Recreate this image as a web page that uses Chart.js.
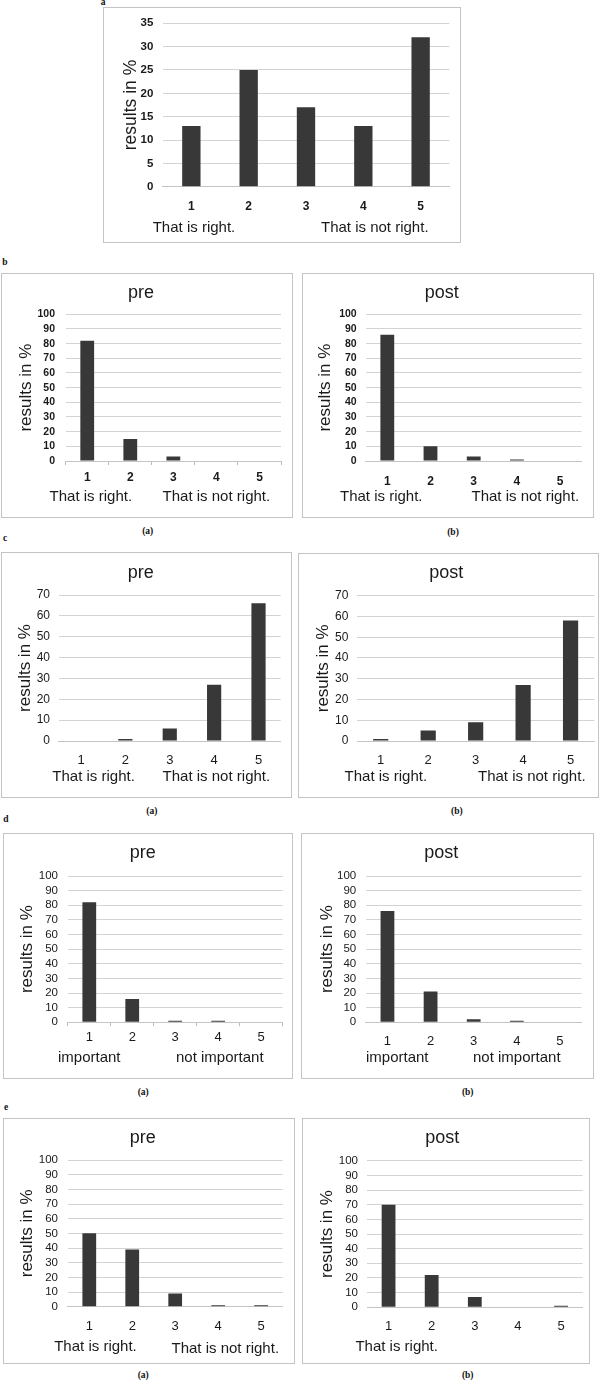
<!DOCTYPE html>
<html>
<head>
<meta charset="utf-8">
<script src="https://cdn.jsdelivr.net/npm/chart.js@4.4.1/dist/chart.umd.min.js"></script>
<style>
html, body { margin: 0; padding: 0; background: #fff; }
#page { position: relative; width: 607px; height: 1382px; overflow: hidden; font-family: "Liberation Serif", "Times New Roman", serif; }
#page canvas { position: absolute; }
.lbl { position: absolute; font-weight: bold; font-size: 9.5px; line-height: 1; color: #111; transform: translate(-50%, -50%); white-space: nowrap; }
</style>
</head>
<body>
<div id="page"></div>
<script>
// categories on the x axis (answer scale 1..5)
var categories = ['1', '2', '3', '4', '5'];
var rightWrong = ['That is right.', 'That is not right.'];
var importance = ['important', 'not important'];

// results in %
var valuesA     = [13, 25, 17, 13, 32];
var valuesBPre  = [82, 15, 3, 0, 0];
var valuesBPost = [86, 10, 3, 1, 0];
var valuesCPre  = [0, 1, 6, 27, 66];
var valuesCPost = [1, 5, 9, 27, 58];
var valuesDPre  = [82, 16, 1, 1, 0];
var valuesDPost = [76, 21, 2, 1, 0];
var valuesEPre  = [50, 39, 9, 1, 1];
var valuesEPost = [70, 22, 7, 0, 1];

var SANS = '"Liberation Sans", Arial, sans-serif';

// layout of every panel, in page pixels
var panels = [
  { values: valuesA, box: [103, 7, 358, 236], area: [162.7, 449.3, 20, 186.7], max: 35, step: 5,
    tickRight: 153.3, tickFont: { size: 11.5, weight: 'bold' }, xFont: { size: 12, weight: 'bold' }, xLabelY: 202.3,
    yTitleX: 130.7, yTitleSize: 17.5, title: null, marks: false,
    captions: [[rightWrong[0], 152.7, 227.7], [rightWrong[1], 321, 227.7]] },
  { values: valuesBPre, box: [1, 273, 292, 245], area: [65.7, 281, 314.3, 461], max: 100, step: 10,
    tickRight: 55, tickFont: { size: 10.5, weight: 'bold' }, xFont: { size: 12, weight: 'bold' }, xLabelY: 477.7,
    yTitleX: 26, yTitleSize: 17, title: 'pre', titleY: 293, marks: true,
    captions: [[rightWrong[0], 49.6, 497.3], [rightWrong[1], 162.6, 497.3]] },
  { values: valuesBPost, box: [302, 273, 292, 245], area: [365.7, 581.7, 314.3, 461], max: 100, step: 10,
    tickRight: 356.7, tickFont: { size: 10.5, weight: 'bold' }, xFont: { size: 12, weight: 'bold' }, xLabelY: 477.7,
    yTitleX: 325, yTitleSize: 17, title: 'post', titleY: 293, marks: false,
    captions: [[rightWrong[0], 340, 497.3], [rightWrong[1], 471.5, 497.3]] },
  { values: valuesCPre, box: [1, 552, 291, 246], area: [58.8, 280.7, 595, 741], max: 70, step: 10,
    tickRight: 50, tickFont: { size: 12, weight: 'normal' }, xFont: { size: 13, weight: 'normal' }, xLabelY: 756.7,
    yTitleX: 25.5, yTitleSize: 17, title: 'pre', titleY: 572.7, marks: false,
    captions: [[rightWrong[0], 52.3, 777], [rightWrong[1], 162.6, 777]] },
  { values: valuesCPost, box: [298, 553, 301, 245], area: [357, 594.3, 595.7, 741], max: 70, step: 10,
    tickRight: 348.4, tickFont: { size: 12, weight: 'normal' }, xFont: { size: 13, weight: 'normal' }, xLabelY: 756.7,
    yTitleX: 323.3, yTitleSize: 17, title: 'post', titleY: 573.3, marks: false,
    captions: [[rightWrong[0], 344.6, 777], [rightWrong[1], 478, 777]] },
  { values: valuesDPre, box: [3, 833, 290, 246], area: [67.8, 282.6, 876, 1022.3], max: 100, step: 10,
    tickRight: 58, tickFont: { size: 11.5, weight: 'normal' }, xFont: { size: 13, weight: 'normal' }, xLabelY: 1037.7,
    yTitleX: 27, yTitleSize: 17, title: 'pre', titleY: 853.3, marks: true,
    captions: [[importance[0], 58, 1058], [importance[1], 176, 1058]] },
  { values: valuesDPost, box: [301, 833, 293, 246], area: [365.9, 581.5, 876, 1022.3], max: 100, step: 10,
    tickRight: 356.2, tickFont: { size: 11.5, weight: 'normal' }, xFont: { size: 13, weight: 'normal' }, xLabelY: 1037.7,
    yTitleX: 327, yTitleSize: 17, title: 'post', titleY: 853.3, marks: false,
    captions: [[importance[0], 366, 1058], [importance[1], 473, 1058]] },
  { values: valuesEPre, box: [3, 1118, 292, 246], area: [67.8, 282.6, 1160, 1306.7], max: 100, step: 10,
    tickRight: 58, tickFont: { size: 11.5, weight: 'normal' }, xFont: { size: 13, weight: 'normal' }, xLabelY: 1322.7,
    yTitleX: 27, yTitleSize: 17, title: 'pre', titleY: 1138.3, marks: false,
    captions: [[rightWrong[0], 54.2, 1347.3], [rightWrong[1], 171.5, 1349.3]] },
  { values: valuesEPost, box: [302, 1118, 288, 246], area: [367, 582.6, 1160.7, 1307.3], max: 100, step: 10,
    tickRight: 358, tickFont: { size: 11.5, weight: 'normal' }, xFont: { size: 13, weight: 'normal' }, xLabelY: 1322.7,
    yTitleX: 327, yTitleSize: 17, title: 'post', titleY: 1138.3, marks: false,
    captions: [[rightWrong[0], 355.4, 1346.7]] }
];

// panel letters and sub captions
var letters = [
  ['a', 103, 3], ['b', 5, 263], ['c', 5, 538.5], ['d', 6, 820], ['e', 6, 1108],
  ['(a)', 147.7, 532.3], ['(b)', 453, 533],
  ['(a)', 151.8, 811.7], ['(b)', 456.8, 811.7],
  ['(a)', 143.2, 1093.3], ['(b)', 467.7, 1093.3],
  ['(a)', 143.2, 1376], ['(b)', 467.7, 1376]
];

// border of each panel and the text under the x axis
var decorPlugin = {
  id: 'decor',
  afterDraw: function(chart, args, opts) {
    var ctx = chart.ctx;
    ctx.save();
    ctx.strokeStyle = '#c4c4c4';
    ctx.lineWidth = 1;
    ctx.strokeRect(0.5, 0.5, chart.width - 1, chart.height - 1);
    ctx.fillStyle = '#1a1a1a';
    ctx.font = '15px ' + SANS;
    ctx.textAlign = 'left';
    ctx.textBaseline = 'middle';
    opts.captions.forEach(function(c) { ctx.fillText(c[0], c[1], c[2]); });
    ctx.restore();
  }
};

var page = document.getElementById('page');

letters.forEach(function(l) {
  var d = document.createElement('div');
  d.className = 'lbl';
  d.textContent = l[0];
  d.style.left = l[1] + 'px';
  d.style.top = l[2] + 'px';
  page.appendChild(d);
});

panels.forEach(function(p) {
  var bx = p.box[0], by = p.box[1], w = p.box[2], h = p.box[3];
  var aLeft = p.area[0] - bx, aRight = p.area[1] - bx, aTop = p.area[2] - by, aBottom = p.area[3] - by;

  var cv = document.createElement('canvas');
  cv.width = w; cv.height = h;
  cv.style.left = bx + 'px'; cv.style.top = by + 'px';
  cv.style.width = w + 'px'; cv.style.height = h + 'px';
  page.appendChild(cv);

  var tl = p.marks ? 4 : 0;
  var titleOpts = { display: false };
  var padTop = aTop;
  if (p.title) {
    var lh = 18 * 1.2, ty = p.titleY - by;
    titleOpts = {
      display: true, text: p.title, color: '#1a1a1a',
      font: { family: SANS, size: 18, weight: 'normal', lineHeight: 1.2 },
      padding: { top: ty - lh / 2, bottom: aTop - ty - lh / 2 }
    };
    padTop = 0;
  }

  new Chart(cv, {
    type: 'bar',
    data: {
      labels: categories,
      datasets: [{
        data: p.values,
        backgroundColor: '#383838',
        borderWidth: 0,
        barPercentage: 0.32,
        categoryPercentage: 1
      }]
    },
    options: {
      responsive: false,
      animation: false,
      layout: { padding: { left: 0, top: padTop, right: w - aRight, bottom: 0 } },
      plugins: {
        legend: { display: false },
        tooltip: { enabled: false },
        title: titleOpts,
        decor: { captions: p.captions.map(function(c) { return [c[0], c[1] - bx, c[2] - by]; }) }
      },
      scales: {
        x: {
          type: 'category',
          offset: true,
          grid: { display: p.marks, offset: true, drawOnChartArea: false, drawTicks: true, tickLength: 4, color: '#bdbdbd' },
          border: { display: true, color: '#c4c4c4', width: 1 },
          ticks: {
            color: '#1a1a1a',
            font: { family: SANS, size: p.xFont.size, weight: p.xFont.weight, lineHeight: 1.2 },
            padding: (p.xLabelY - by) - aBottom - tl - 0.6 * p.xFont.size,
            maxRotation: 0,
            autoSkip: false
          },
          afterFit: function(s) { s.height = h - aBottom; }
        },
        y: {
          min: 0, max: p.max,
          grid: { color: '#d3d3d3', lineWidth: 1, drawTicks: false },
          border: { display: false },
          ticks: {
            stepSize: p.step,
            autoSkip: false,
            color: '#1a1a1a',
            font: { family: SANS, size: p.tickFont.size, weight: p.tickFont.weight },
            padding: aLeft - (p.tickRight - bx)
          },
          title: {
            display: true, text: 'results in %', color: '#1a1a1a',
            font: { family: SANS, size: p.yTitleSize, weight: 'normal', lineHeight: 1.2 },
            padding: { top: (p.yTitleX - bx) - 0.6 * p.yTitleSize, bottom: 0 }
          },
          afterFit: function(s) { s.width = aLeft; }
        }
      }
    },
    plugins: [decorPlugin]
  });
});
</script>
</body>
</html>
